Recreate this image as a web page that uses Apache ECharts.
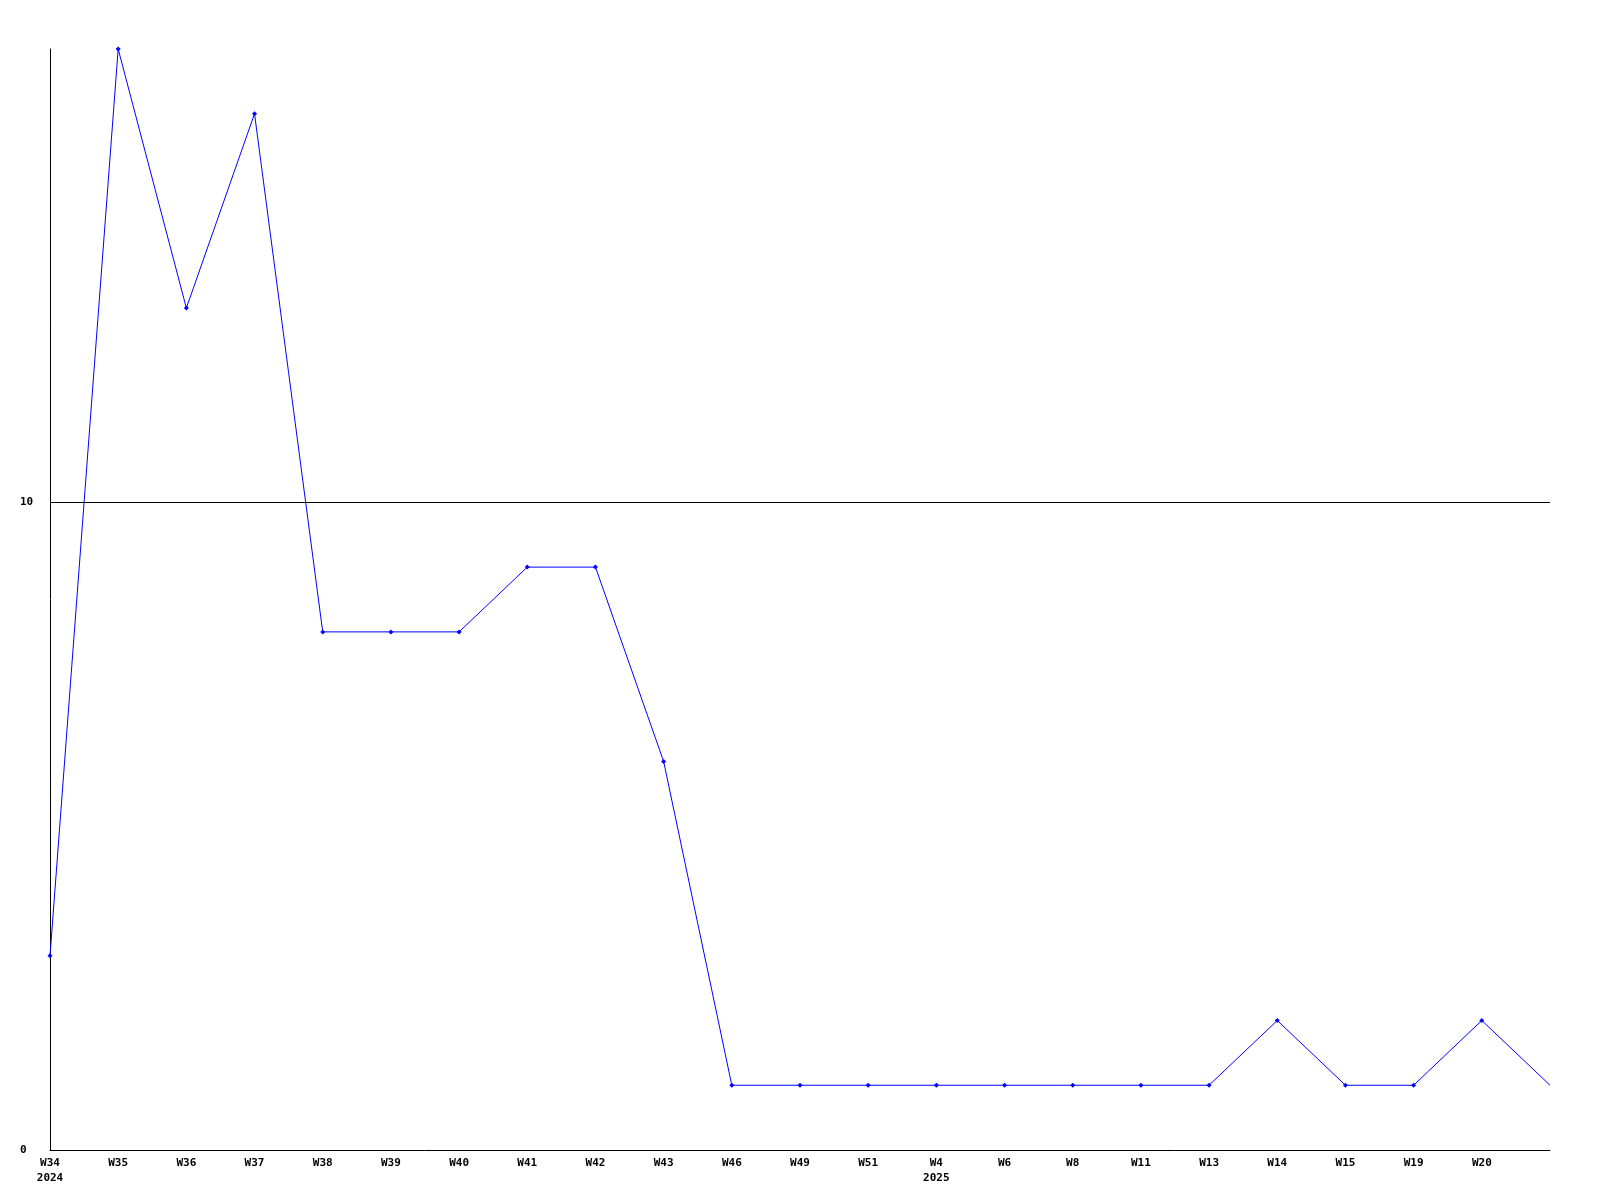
<!DOCTYPE html>
<html>
<head>
<meta charset="utf-8">
<script src="https://cdn.jsdelivr.net/npm/echarts@6/dist/echarts.min.js"></script>
<style>html,body{margin:0;padding:0;background:#fff;}#c{width:1600px;height:1200px;}</style>
</head>
<body>
<div id="c"></div>
<script>
const categories = ["W34","W35","W36","W37","W38","W39","W40","W41","W42","W43","W46","W49","W51","W4","W6","W8","W11","W13","W14","W15","W19","W20","W21"];
const values = [3,17,13,16,8,8,8,9,9,6,1,1,1,1,1,1,1,1,2,1,1,2,1];
const yearLabels = {"W34":"2024","W4":"2025"};
const yTicks = [0,10];

const font = '"DejaVu Sans Mono", "Liberation Mono", monospace';
const seriesData = values.map(function (v, i) {
  return i === values.length - 1 ? {value: v, symbol: 'none'} : v;
});
const chart = echarts.init(document.getElementById('c'));
chart.setOption({
  animation: false,
  backgroundColor: '#ffffff',
  grid: {left: 50, right: 50, top: 49, bottom: 50},
  xAxis: {
    type: 'category',
    data: categories,
    boundaryGap: false,
    axisLine: {show: true, lineStyle: {color: '#000', width: 1}},
    axisTick: {show: false},
    splitLine: {show: false},
    axisLabel: {
      interval: 0,
      showMaxLabel: false,
      margin: 6,
      color: '#000',
      fontFamily: font,
      fontWeight: 'bold',
      fontSize: 11,
      lineHeight: 15,
      formatter: function (v, i) {
        if (i === categories.length - 1) return '';
        return yearLabels[v] ? v + '\n' + yearLabels[v] : v;
      }
    }
  },
  yAxis: {
    type: 'value',
    min: 0,
    max: 17,
    interval: 10,
    axisLine: {show: true, lineStyle: {color: '#000', width: 1}},
    axisTick: {show: false},
    splitLine: {show: false},
    axisLabel: {
      showMaxLabel: false,
      align: 'left',
      margin: 30,
      padding: [2, 0, 0, 0],
      color: '#000',
      fontFamily: font,
      fontWeight: 'bold',
      fontSize: 11,
      formatter: function (v) { return yTicks.indexOf(v) >= 0 ? String(v) : ''; }
    }
  },
  series: [{
    type: 'line',
    data: seriesData,
    symbol: 'diamond',
    symbolSize: 5,
    showAllSymbol: true,
    itemStyle: {color: '#0000ff'},
    lineStyle: {color: '#0000ff', width: 1},
    markLine: {
      silent: true,
      symbol: 'none',
      label: {show: false},
      lineStyle: {color: '#000', width: 1, type: 'solid'},
      data: [{yAxis: 10}]
    }
  }]
});
</script>
</body>
</html>
